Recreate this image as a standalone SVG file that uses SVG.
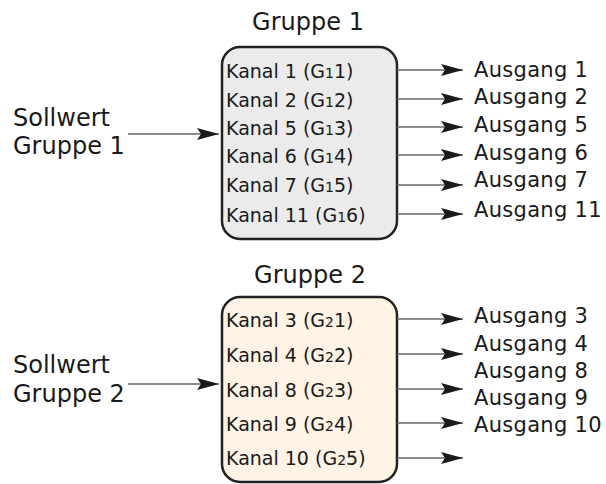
<svg xmlns="http://www.w3.org/2000/svg" width="606" height="484" viewBox="0 0 606 484">
<style>
text{font-family:"DejaVu Sans","Liberation Sans",sans-serif;fill:#1a1a1a}
.big{font-size:24px}
.ch{font-size:19px}
.out{font-size:21px;letter-spacing:0.3px}
.sub{font-size:14px}
.box{stroke:#222;stroke-width:2.5}
.ln{stroke:#666;stroke-width:1.3;fill:none}
</style>
<defs>
<marker id="ah" markerUnits="userSpaceOnUse" markerWidth="23" markerHeight="13" refX="22" refY="6.5" orient="auto">
<path d="M0,0.5 L22,6.5 L0,12.5 L4,6.5 Z" fill="#1a1a1a"/>
</marker>
</defs>
<g id="group1">
<text class="big" x="308" y="30" text-anchor="middle">Gruppe 1</text>
<rect class="box" x="222" y="47" width="175" height="192" rx="18" fill="#ebebeb"/>
<text class="ch" x="226" y="78">Kanal 1 (G<tspan class="sub">1</tspan>1)</text>
<text class="ch" x="226" y="107">Kanal 2 (G<tspan class="sub">1</tspan>2)</text>
<text class="ch" x="226" y="135">Kanal 5 (G<tspan class="sub">1</tspan>3)</text>
<text class="ch" x="226" y="163">Kanal 6 (G<tspan class="sub">1</tspan>4)</text>
<text class="ch" x="226" y="192">Kanal 7 (G<tspan class="sub">1</tspan>5)</text>
<text class="ch" x="226" y="222">Kanal 11 (G<tspan class="sub">1</tspan>6)</text>
</g>
<g id="group2">
<text class="big" x="310" y="283" text-anchor="middle">Gruppe 2</text>
<rect class="box" x="222" y="297" width="175" height="185" rx="18" fill="#fef3e4"/>
<text class="ch" x="226" y="327">Kanal 3 (G<tspan class="sub">2</tspan>1)</text>
<text class="ch" x="226" y="362">Kanal 4 (G<tspan class="sub">2</tspan>2)</text>
<text class="ch" x="226" y="397">Kanal 8 (G<tspan class="sub">2</tspan>3)</text>
<text class="ch" x="226" y="431">Kanal 9 (G<tspan class="sub">2</tspan>4)</text>
<text class="ch" x="226" y="465">Kanal 10 (G<tspan class="sub">2</tspan>5)</text>
</g>
<g id="input1">
<text class="big" x="13" y="126">Sollwert</text>
<text class="big" x="13" y="154">Gruppe 1</text>
</g>
<g id="input2">
<text class="big" x="13" y="373">Sollwert</text>
<text class="big" x="13" y="402">Gruppe 2</text>
</g>
<g id="outputs1">
<text class="out" x="474" y="77">Ausgang 1</text>
<text class="out" x="474" y="104">Ausgang 2</text>
<text class="out" x="474" y="132">Ausgang 5</text>
<text class="out" x="474" y="160">Ausgang 6</text>
<text class="out" x="474" y="187">Ausgang 7</text>
<text class="out" x="474" y="217">Ausgang 11</text>
</g>
<g id="outputs2">
<text class="out" x="474" y="323">Ausgang 3</text>
<text class="out" x="474" y="351">Ausgang 4</text>
<text class="out" x="474" y="378">Ausgang 8</text>
<text class="out" x="474" y="405">Ausgang 9</text>
<text class="out" x="474" y="432">Ausgang 10</text>
</g>
<g id="connectors">
<path class="ln" d="M128,134 H219" marker-end="url(#ah)"/>
<path class="ln" d="M128,384 H219" marker-end="url(#ah)"/>
<path class="ln" d="M397,70 H463" marker-end="url(#ah)"/>
<path class="ln" d="M397,99 H463" marker-end="url(#ah)"/>
<path class="ln" d="M397,127 H463" marker-end="url(#ah)"/>
<path class="ln" d="M397,155 H463" marker-end="url(#ah)"/>
<path class="ln" d="M397,185 H463" marker-end="url(#ah)"/>
<path class="ln" d="M397,214 H463" marker-end="url(#ah)"/>
<path class="ln" d="M397,319 H463" marker-end="url(#ah)"/>
<path class="ln" d="M397,354 H463" marker-end="url(#ah)"/>
<path class="ln" d="M397,389 H463" marker-end="url(#ah)"/>
<path class="ln" d="M397,423 H463" marker-end="url(#ah)"/>
<path class="ln" d="M397,458 H463" marker-end="url(#ah)"/>
</g>
</svg>
